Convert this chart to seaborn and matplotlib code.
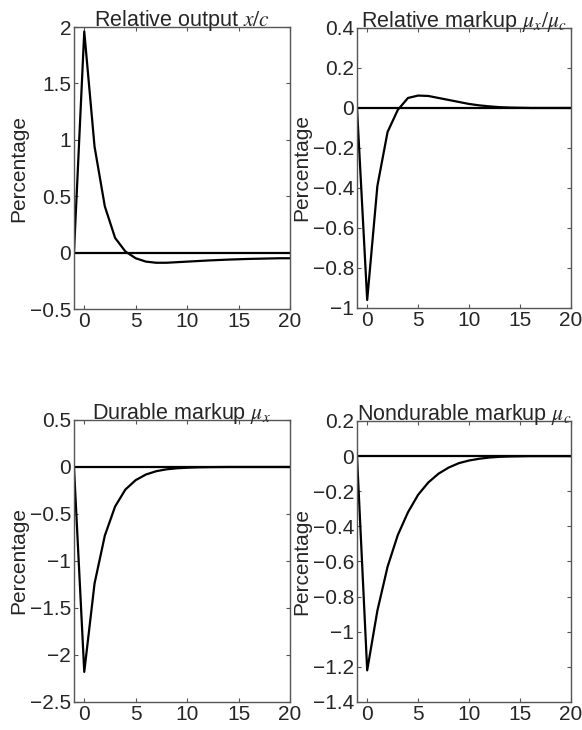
import numpy as np
import pandas as pd
import matplotlib
matplotlib.use("Agg")
import matplotlib.pyplot as plt
import seaborn as sns

sns.set_style("ticks")
plt.rcParams["font.family"] = ["Liberation Sans", "DejaVu Sans"]
plt.rcParams["mathtext.fontset"] = "stix"
plt.rcParams["font.size"] = 15

# periods: -1 (steady state) then 0..20
periods = list(range(-1, 21))

rel_output = [0, 1.96, 0.94, 0.41, 0.13, 0.01, -0.05, -0.08, -0.09, -0.09, -0.085,
              -0.08, -0.075, -0.07, -0.066, -0.062, -0.059, -0.056, -0.054, -0.052, -0.05, -0.05]
rel_markup = [0, -0.96, -0.39, -0.12, -0.01, 0.05, 0.062, 0.06, 0.05, 0.04, 0.03,
              0.02, 0.013, 0.008, 0.004, 0.002, 0.001, 0, 0, 0, 0, 0]
durable_markup = [0, -2.18, -1.24, -0.73, -0.42, -0.24, -0.14, -0.08, -0.045, -0.025, -0.014,
                  -0.008, -0.004, -0.002, -0.001, 0, 0, 0, 0, 0, 0, 0]
nondurable_markup = [0, -1.22, -0.88, -0.63, -0.45, -0.32, -0.22, -0.15, -0.10, -0.065, -0.04,
                     -0.025, -0.015, -0.008, -0.004, -0.002, -0.001, 0, 0, 0, 0, 0]

titles = ["Relative output $x/c$", r"Relative markup $\mu_x/\mu_c$",
          r"Durable markup $\mu_x$", r"Nondurable markup $\mu_c$"]
series = [rel_output, rel_markup, durable_markup, nondurable_markup]
ylims = [(-0.5, 2), (-1, 0.4), (-2.5, 0.5), (-1.4, 0.2)]
yticks = [[-0.5, 0, 0.5, 1, 1.5, 2],
          [-1, -0.8, -0.6, -0.4, -0.2, 0, 0.2, 0.4],
          [-2.5, -2, -1.5, -1, -0.5, 0, 0.5],
          [-1.4, -1.2, -1, -0.8, -0.6, -0.4, -0.2, 0, 0.2]]
xticks = [0, 5, 10, 15, 20]

rects = [[0.1271, 0.5767, 0.3711, 0.3863],
         [0.6134, 0.5781, 0.3677, 0.3836],
         [0.1271, 0.0384, 0.3711, 0.3863],
         [0.6134, 0.0384, 0.3677, 0.3849]]


def fmt(v):
    s = f"{v:g}"
    return s.replace("-", "\u2212")


fig = plt.figure(figsize=(5.82, 7.3), dpi=100)

for title, vals, ylim, yt, rect in zip(titles, series, ylims, yticks, rects):
    ax = fig.add_axes(rect)
    df = pd.DataFrame({"t": periods, "value": vals})
    sns.lineplot(data=df, x="t", y="value", ax=ax, color="black", linewidth=1.6)
    ax.axhline(0, color="black", linewidth=1.6)
    ax.set_xlim(-1, 20)
    ax.set_ylim(*ylim)
    ax.set_xticks(xticks)
    ax.set_xticklabels([fmt(v) for v in xticks])
    ax.set_yticks(yt)
    ax.set_yticklabels([fmt(v) for v in yt])
    ax.tick_params(direction="in", length=3, width=0.8, color="#555555",
                   top=True, right=True, labelsize=15, pad=2)
    for sp in ax.spines.values():
        sp.set_color("#555555")
        sp.set_linewidth(1.0)
    ax.set_xlabel("")
    ax.set_ylabel("Percentage", fontsize=15, labelpad=1)
    ax.set_title(title, fontsize=15.5, pad=1)

fig.savefig("out.png", dpi=100)
